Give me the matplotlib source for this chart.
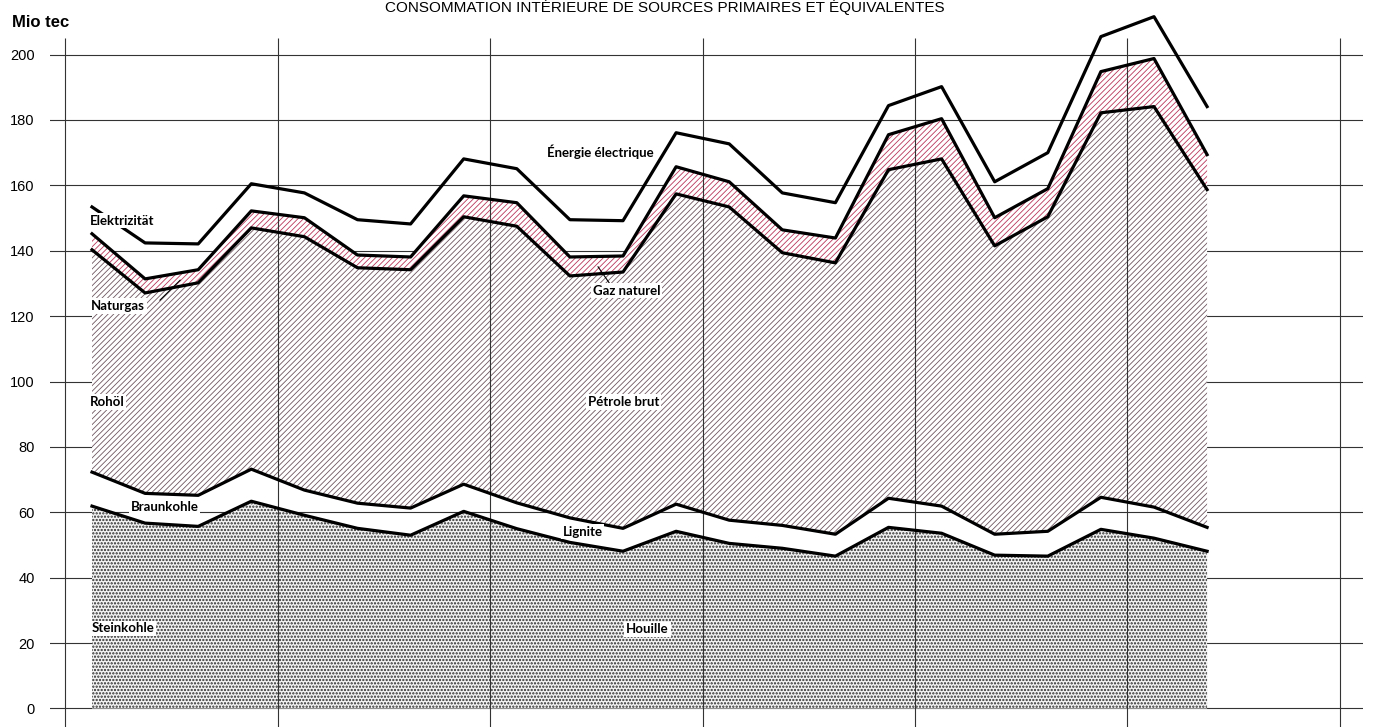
import numpy as np
import matplotlib
matplotlib.use('Agg')
import matplotlib.pyplot as plt

# quarterly values, Mio tec
quarters = np.arange(22)
steinkohle = [61.9, 56.7, 55.7, 63.4, 59.1, 55.1, 53.0, 60.3, 55.0, 50.8, 48.1,
              54.2, 50.5, 49.0, 46.6, 55.4, 53.6, 46.9, 46.6, 54.8, 52.1, 48.1]
braunkohle = [10.4, 9.1, 9.5, 9.8, 7.7, 7.7, 8.3, 8.3, 7.9, 7.5, 7.0,
              8.3, 7.1, 7.0, 6.7, 8.9, 8.3, 6.4, 7.6, 9.8, 9.5, 7.3]
rohoel = [68.0, 61.3, 65.0, 73.8, 77.5, 72.0, 72.9, 81.8, 84.6, 74.0, 78.4,
          94.9, 95.8, 83.4, 83.0, 100.5, 106.2, 88.2, 96.2, 117.6, 122.5, 103.3]
naturgas = [4.9, 4.3, 4.0, 5.2, 5.8, 3.9, 3.9, 6.4, 7.2, 5.8, 4.9,
            8.3, 7.7, 7.0, 7.6, 10.7, 12.3, 8.6, 8.6, 12.6, 14.7, 10.7]
elektrizitaet = [8.2, 11.0, 7.9, 8.3, 7.6, 10.8, 10.1, 11.3, 10.4, 11.4, 10.8,
                 10.4, 11.6, 11.3, 10.8, 8.9, 9.8, 11.0, 11.0, 10.7, 12.8, 14.7]
yticks = list(range(0, 201, 20))
year_lines = np.arange(-0.5, 24, 4)

tops = np.cumsum([steinkohle, braunkohle, rohoel, naturgas, elektrizitaet], axis=0)
s_top, b_top, r_top, n_top, e_top = tops

fig = plt.figure(figsize=(13.74, 7.27), dpi=100)
ax = fig.add_axes([50 / 1374, 0, 1313 / 1374, 1])
ax.set_xlim(-0.791, 23.936)
ax.set_ylim(-5.66, 216.7)

with plt.rc_context({'hatch.linewidth': 1.1}):
    ax.fill_between(quarters, 0, s_top, facecolor='#f4f4f4', edgecolor='#2a2a2a',
                    hatch='.....', lw=0, zorder=1)
with plt.rc_context({'hatch.linewidth': 0.6}):
    ax.fill_between(quarters, b_top, r_top, facecolor='white', edgecolor='#6e5660',
                    hatch='//////', lw=0, zorder=1)
    ax.fill_between(quarters, r_top, n_top, facecolor='white', edgecolor='#b8365a',
                    hatch='//////', lw=0, zorder=1)

for top in tops:
    ax.plot(quarters, top, color='black', lw=2.3, zorder=4)

ax.vlines(year_lines, -5.66, 205, color='#333333', lw=0.8, zorder=3)
ax.set_yticks(yticks)
ax.set_xticks([])
ax.grid(axis='y', color='#333333', lw=0.8)
ax.set_axisbelow(True)
for sp in ax.spines.values():
    sp.set_visible(False)
ax.tick_params(axis='y', length=0, pad=11)
for lab in ax.get_yticklabels():
    lab.set_fontfamily('Liberation Sans')
    lab.set_fontsize(10.5)

lab_kw = dict(family='Lato', fontweight='bold', fontsize=9.5, va='center', ha='left',
              zorder=6, bbox=dict(facecolor='white', edgecolor='none', pad=1.2))
labels = [('Elektrizität', -0.04, 149.2), ('Naturgas', -0.02, 123.1),
          ('Rohöl', -0.04, 93.7), ('Braunkohle', 0.73, 61.7),
          ('Steinkohle', 0.0, 24.5), ('Énergie électrique', 8.57, 170.3),
          ('Gaz naturel', 9.43, 127.8), ('Pétrole brut', 9.34, 93.7),
          ('Lignite', 8.86, 54.1), ('Houille', 10.06, 24.2)]
for txt, x, y in labels:
    ax.text(x, y, txt, **lab_kw)

# leader lines
ax.plot([1.28, 1.66], [124.9, 131.0], color='black', lw=0.8, zorder=5)
ax.plot([9.94, 9.53], [125.5, 135.1], color='black', lw=0.8, zorder=5)

fig.text(12 / 1374, 1 - 27 / 727, 'Mio tec', family='Liberation Sans', fontweight='bold',
         fontsize=12, va='baseline', ha='left')
fig.text(665 / 1374, 1 - 12 / 727, 'CONSOMMATION INTÉRIEURE DE SOURCES PRIMAIRES ET ÉQUIVALENTES',
         family='Liberation Sans', fontsize=11, va='baseline', ha='center')

fig.savefig('out.png', dpi=100)
